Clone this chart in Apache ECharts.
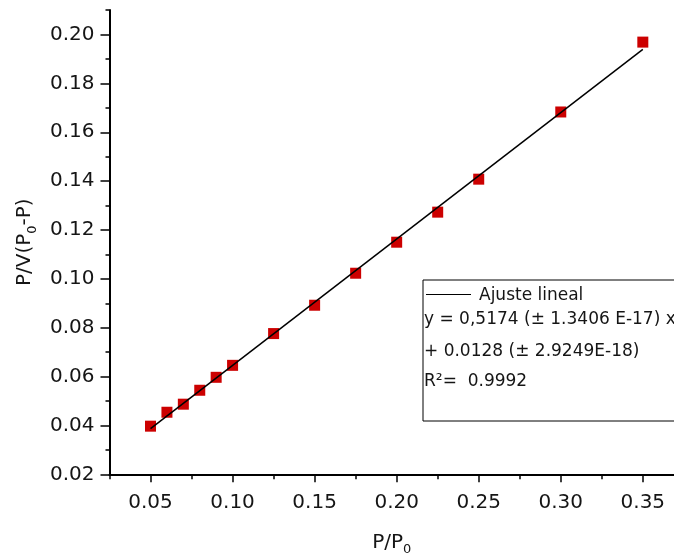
<!DOCTYPE html>
<html>
<head>
<meta charset="utf-8">
<script src="https://cdn.jsdelivr.net/npm/echarts@6/dist/echarts.min.js"></script>
<style>
html,body{margin:0;padding:0;background:#fff;}
#chart{width:674px;height:557px;}
</style>
</head>
<body>
<div id="chart"></div>
<script>
// Data
var xValues = [0.05, 0.06, 0.07, 0.08, 0.09, 0.10, 0.125, 0.15, 0.175, 0.20, 0.225, 0.25, 0.30, 0.35];
var yValues = [0.0397, 0.0454, 0.0487, 0.0544, 0.0597, 0.0646, 0.0776, 0.0892, 0.1023, 0.1150, 0.1273, 0.1408, 0.1683, 0.1969];
var fitX = [0.05, 0.35];
var fitY = [0.0387, 0.1939];
var xMajorTicks = [0.05, 0.10, 0.15, 0.20, 0.25, 0.30, 0.35];
var xMinorTicks = [0.025, 0.075, 0.125, 0.175, 0.225, 0.275, 0.325];
var yMajorTicks = [0.02, 0.04, 0.06, 0.08, 0.10, 0.12, 0.14, 0.16, 0.18, 0.20];
var yMinorTicks = [0.03, 0.05, 0.07, 0.09, 0.11, 0.13, 0.15, 0.17, 0.19, 0.21];
var legendLines = ['y = 0,5174 (\u00b1 1.3406 E-17) x', '+ 0.0128 (\u00b1 2.9249E-18)', 'R\u00b2=  0.9992'];
var legendTitle = 'Ajuste lineal';

var FONT = 'DejaVu Sans';
var TXT = '#151515';

var points = xValues.map(function (x, i) { return [x, yValues[i]]; });
var fitLine = fitX.map(function (x, i) { return [x, fitY[i]]; });

var chart = echarts.init(document.getElementById('chart'), null, {renderer: 'canvas'});

var subRich = {
  m: {fontFamily: FONT, fontSize: 20, color: TXT, lineHeight: 28, verticalAlign: 'middle'},
  s: {fontFamily: FONT, fontSize: 13, color: TXT, lineHeight: 13, verticalAlign: 'bottom'}
};

var LEG_FONT = '17px "DejaVu Sans"';

var option = {
  backgroundColor: '#ffffff',
  animation: false,
  grid: {left: 109.5, right: 0, top: 10.1, bottom: 82.7, containLabel: false, outerBoundsMode: 'none'},
  xAxis: [{
    type: 'value', min: 0.025, max: 0.369,
    name: '{m|P/P}{s|0}', nameLocation: 'middle', nameGap: 54,
    nameTextStyle: {rich: subRich},
    axisLine: {show: true, onZero: false, lineStyle: {color: '#000', width: 2}},
    axisTick: {show: true, inside: false, length: 8, lineStyle: {color: '#000', width: 1.5}, customValues: xMajorTicks},
    axisLabel: {show: true, margin: 18, fontFamily: FONT, fontSize: 20, color: TXT, customValues: xMajorTicks,
      formatter: function (v) { return v.toFixed(2); }},
    splitLine: {show: false}
  }, {
    type: 'value', min: 0.025, max: 0.369, position: 'bottom',
    axisLine: {show: false, onZero: false},
    axisTick: {show: true, inside: false, length: 5, lineStyle: {color: '#000', width: 1.5}, customValues: xMinorTicks},
    axisLabel: {show: false},
    splitLine: {show: false}
  }],
  yAxis: [{
    type: 'value', min: 0.02, max: 0.21,
    name: '{m|P/V(P}{s|0}{m|-P)}', nameLocation: 'middle', nameGap: 70, nameRotate: 90,
    nameTextStyle: {rich: subRich},
    axisLine: {show: true, onZero: false, lineStyle: {color: '#000', width: 2}},
    axisTick: {show: true, inside: false, length: 9, lineStyle: {color: '#000', width: 1.5}, customValues: yMajorTicks},
    axisLabel: {show: true, margin: 15, fontFamily: FONT, fontSize: 20, color: TXT, customValues: yMajorTicks,
      formatter: function (v) { return v.toFixed(2); }},
    splitLine: {show: false}
  }, {
    type: 'value', min: 0.02, max: 0.21, position: 'left',
    axisLine: {show: false, onZero: false},
    axisTick: {show: true, inside: false, length: 4, lineStyle: {color: '#000', width: 1.5}, customValues: yMinorTicks},
    axisLabel: {show: false},
    splitLine: {show: false}
  }],
  series: [{
    name: 'Ajuste lineal', type: 'line', data: fitLine, xAxisIndex: 0, yAxisIndex: 0,
    showSymbol: false, symbol: 'none', lineStyle: {color: '#000', width: 1.5}, z: 3
  }, {
    name: 'data', type: 'scatter', data: points, xAxisIndex: 0, yAxisIndex: 0,
    symbol: 'rect', symbolSize: 11, itemStyle: {color: '#CC0000', opacity: 1}, z: 2
  }],
  graphic: [
    {type: 'rect', shape: {x: 423, y: 280, width: 270, height: 141}, style: {fill: '#fff', stroke: '#000', lineWidth: 1}, z: 10},
    {type: 'line', shape: {x1: 426, y1: 294.5, x2: 471, y2: 294.5}, style: {stroke: '#000', lineWidth: 1}, z: 11},
    {type: 'text', x: 479, y: 296, style: {text: legendTitle, font: LEG_FONT, fill: TXT, verticalAlign: 'middle'}, z: 11},
    {type: 'text', x: 424, y: 320, style: {text: legendLines[0], font: LEG_FONT, fill: TXT, verticalAlign: 'middle'}, z: 11},
    {type: 'text', x: 424, y: 352, style: {text: legendLines[1], font: LEG_FONT, fill: TXT, verticalAlign: 'middle'}, z: 11},
    {type: 'text', x: 424, y: 382, style: {text: legendLines[2], font: LEG_FONT, fill: TXT, verticalAlign: 'middle'}, z: 11}
  ]
};
chart.setOption(option);
</script>
</body>
</html>
